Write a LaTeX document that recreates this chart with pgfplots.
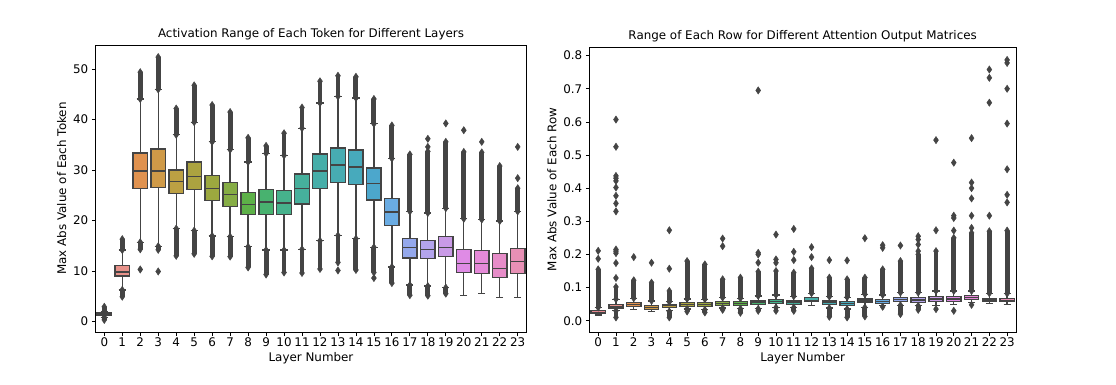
\documentclass[border=0pt]{standalone}
\usepackage{fontspec}
\setmainfont{DejaVu Sans}
\usepackage{pgfplots}
\usepackage{pgfplotstable}
\pgfplotsset{compat=1.18}
\usepgfplotslibrary{statistics}

\definecolor{lc}{HTML}{444444}
\definecolor{c0}{HTML}{E6878F}
\definecolor{c1}{HTML}{E8928A}
\definecolor{c2}{HTML}{E0924F}
\definecolor{c3}{HTML}{CF9A48}
\definecolor{c4}{HTML}{BCA043}
\definecolor{c5}{HTML}{ABA340}
\definecolor{c6}{HTML}{9CA83F}
\definecolor{c7}{HTML}{86AD45}
\definecolor{c8}{HTML}{5DB148}
\definecolor{c9}{HTML}{48B26F}
\definecolor{c10}{HTML}{46B28C}
\definecolor{c11}{HTML}{46B09C}
\definecolor{c12}{HTML}{46AEA9}
\definecolor{c13}{HTML}{47ACB2}
\definecolor{c14}{HTML}{47AABC}
\definecolor{c15}{HTML}{4CA7CC}
\definecolor{c16}{HTML}{6AACE3}
\definecolor{c17}{HTML}{94A8EC}
\definecolor{c18}{HTML}{B3A4EC}
\definecolor{c19}{HTML}{C99AE6}
\definecolor{c20}{HTML}{DF8BE5}
\definecolor{c21}{HTML}{E58AD8}
\definecolor{c22}{HTML}{E68CC8}
\definecolor{c23}{HTML}{E890B5}

% Left panel: box statistics per layer
\pgfplotstableread{
lw lq med uq uw
0.8 1.15 1.4 1.65 2.0
6.25 9.0 9.8 11.07 14.15
15.7 26.3 29.8 33.4 44.1
14.9 26.5 29.8 34.2 46.0
18.4 25.3 27.7 30.0 37.0
18.0 26.1 28.7 31.6 39.5
16.95 24.0 26.3 28.9 35.6
16.8 22.85 25.1 27.5 34.05
14.8 21.15 23.2 25.5 31.6
14.15 21.15 23.7 26.1 33.3
14.15 21.15 23.5 25.9 32.9
14.3 23.3 26.3 29.25 38.3
16.0 26.3 29.8 33.2 43.3
17.05 27.5 31.0 34.4 44.6
16.4 27.1 30.6 34.0 44.3
14.7 24.1 27.3 30.4 39.2
10.8 19.0 21.7 24.3 32.3
7.2 12.6 14.6 16.4 21.8
7.0 12.45 14.2 16.0 21.5
6.7 12.85 14.6 16.8 22.45
5.2 9.7 11.5 14.2 20.35
5.5 9.5 11.5 14.0 20.2
4.8 8.7 10.5 13.4 19.9
4.8 9.5 11.9 14.4 21.8
}\tblA

% Left panel: dense outlier ranges (min, max of each run)
\pgfplotstableread{
x y
0 2.0
0 2.9
nan nan
0 0.3
0 0.8
nan nan
1 14.15
1 16.3
nan nan
1 4.9
1 6.25
nan nan
2 44.1
2 49.4
nan nan
2 14.3
2 15.7
nan nan
3 46.0
3 52.4
nan nan
3 14.2
3 14.9
nan nan
4 37.0
4 42.2
nan nan
4 13.0
4 18.4
nan nan
5 39.5
5 46.8
nan nan
5 13.4
5 18.0
nan nan
6 35.6
6 42.9
nan nan
6 12.9
6 16.95
nan nan
7 34.05
7 41.5
nan nan
7 12.85
7 16.8
nan nan
8 31.6
8 36.4
nan nan
8 10.7
8 14.8
nan nan
9 33.3
9 34.8
nan nan
9 9.3
9 14.15
nan nan
10 32.9
10 37.3
nan nan
10 9.7
10 14.15
nan nan
11 38.3
11 42.4
nan nan
11 9.6
11 14.3
nan nan
12 43.3
12 47.6
nan nan
12 10.4
12 16.0
nan nan
13 44.6
13 48.7
nan nan
13 11.7
13 17.05
nan nan
14 44.3
14 48.5
nan nan
14 10.2
14 16.4
nan nan
15 39.2
15 44.1
nan nan
15 9.7
15 14.7
nan nan
16 32.3
16 38.85
nan nan
16 7.6
16 10.8
nan nan
17 21.8
17 33.1
nan nan
17 5.2
17 7.2
nan nan
18 21.5
18 33.7
nan nan
18 5.1
18 7.0
nan nan
19 22.45
19 35.6
nan nan
19 5.5
19 6.7
nan nan
20 20.35
20 33.6
nan nan
21 20.2
21 33.5
nan nan
22 19.9
22 30.8
nan nan
23 21.8
23 26.4
}\strA

% Left panel: isolated outliers
\pgfplotstableread{
x y
2 10.3
3 9.9
13 10.1
15 8.6
18 34.6
18 36.2
19 39.25
20 37.9
21 35.6
23 28.4
23 34.6
}\outA

% Right panel: box statistics per layer
\pgfplotstableread{
lw lq med uq uw
0.017 0.022 0.025 0.031 0.040
0.030 0.036 0.041 0.048 0.065
0.034 0.044 0.049 0.055 0.068
0.027 0.034 0.040 0.046 0.060
0.030 0.040 0.045 0.050 0.057
0.035 0.044 0.049 0.055 0.066
0.033 0.044 0.048 0.055 0.065
0.038 0.047 0.051 0.058 0.070
0.036 0.046 0.051 0.057 0.068
0.036 0.048 0.054 0.060 0.075
0.040 0.052 0.057 0.064 0.078
0.040 0.048 0.054 0.060 0.074
0.045 0.057 0.062 0.070 0.083
0.038 0.049 0.054 0.060 0.073
0.035 0.047 0.052 0.058 0.071
0.040 0.054 0.060 0.066 0.080
0.045 0.053 0.058 0.064 0.078
0.047 0.058 0.064 0.071 0.085
0.045 0.056 0.063 0.071 0.085
0.047 0.059 0.066 0.073 0.090
0.048 0.059 0.066 0.073 0.090
0.055 0.065 0.070 0.076 0.090
0.051 0.058 0.063 0.068 0.083
0.050 0.057 0.062 0.067 0.082
}\tblB

% Right panel: dense outlier ranges
\pgfplotstableread{
x y
0 0.040
0 0.155
nan nan
1 0.065
1 0.102
nan nan
1 0.010
1 0.030
nan nan
2 0.068
2 0.122
nan nan
3 0.060
3 0.115
nan nan
4 0.057
4 0.090
nan nan
4 0.010
4 0.028
nan nan
5 0.066
5 0.180
nan nan
5 0.028
5 0.035
nan nan
6 0.065
6 0.170
nan nan
6 0.025
6 0.033
nan nan
7 0.070
7 0.125
nan nan
7 0.033
7 0.038
nan nan
8 0.068
8 0.130
nan nan
8 0.024
8 0.036
nan nan
9 0.075
9 0.148
nan nan
9 0.030
9 0.036
nan nan
10 0.078
10 0.150
nan nan
10 0.030
10 0.040
nan nan
11 0.074
11 0.145
nan nan
11 0.030
11 0.040
nan nan
12 0.083
12 0.158
nan nan
13 0.073
13 0.130
nan nan
13 0.012
13 0.038
nan nan
14 0.071
14 0.125
nan nan
14 0.010
14 0.035
nan nan
15 0.080
15 0.130
nan nan
15 0.013
15 0.040
nan nan
16 0.078
16 0.155
nan nan
17 0.085
17 0.180
nan nan
17 0.020
17 0.047
nan nan
18 0.085
18 0.200
nan nan
18 0.033
18 0.045
nan nan
19 0.090
19 0.210
nan nan
20 0.090
20 0.250
nan nan
21 0.090
21 0.265
nan nan
22 0.083
22 0.270
nan nan
23 0.082
23 0.272
}\strB

% Right panel: isolated outliers
\pgfplotstableread{
x y
0 0.187
0 0.211
1 0.129
1 0.174
1 0.204
1 0.210
1 0.215
1 0.330
1 0.354
1 0.377
1 0.402
1 0.422
1 0.430
1 0.437
1 0.525
1 0.607
2 0.192
3 0.175
4 0.157
4 0.273
7 0.225
7 0.248
9 0.175
9 0.200
9 0.205
9 0.695
10 0.175
10 0.185
10 0.260
11 0.183
11 0.208
11 0.277
12 0.192
12 0.222
13 0.183
14 0.182
15 0.249
16 0.220
16 0.228
16 0.042
17 0.227
18 0.210
18 0.230
18 0.245
18 0.255
19 0.035
19 0.273
19 0.545
20 0.030
20 0.272
20 0.310
20 0.317
20 0.477
21 0.048
21 0.280
21 0.317
21 0.369
21 0.400
21 0.417
21 0.551
22 0.317
22 0.658
22 0.733
22 0.758
23 0.357
23 0.380
23 0.457
23 0.595
23 0.700
23 0.778
23 0.787
}\outB

\pgfplotsset{
  panel/.style={
    scale only axis,
    boxplot/draw direction=y,
    xmin=-0.5, xmax=23.5,
    xtick={0,...,23},
    tick align=outside,
    tick pos=left,
    major tick length=3.5pt,
    tick style={black, line width=0.8pt},
    axis line style={black, line width=0.8pt},
    /pgf/number format/assume math mode=true,
    xlabel={Layer Number},
    title style={yshift=-5pt},
    xticklabel style={inner sep=2pt},
  },
  streak/.style={lc, line width=4.9pt, unbounded coords=jump,
    mark=diamond*, mark size=3.6pt,
    mark options={solid, fill=lc, draw=lc, line width=0.5pt, xscale=0.9}},
  iso/.style={only marks, mark=diamond*, mark size=3.6pt,
    mark options={solid, fill=lc, draw=lc, line width=0.5pt, xscale=0.9}},
}

% draw one prepared box from row #1 of table #2
\newcommand{\boxrow}[2]{%
  \pgfplotstablegetelem{#1}{lw}\of#2\let\vlw\pgfplotsretval
  \pgfplotstablegetelem{#1}{lq}\of#2\let\vlq\pgfplotsretval
  \pgfplotstablegetelem{#1}{med}\of#2\let\vmed\pgfplotsretval
  \pgfplotstablegetelem{#1}{uq}\of#2\let\vuq\pgfplotsretval
  \pgfplotstablegetelem{#1}{uw}\of#2\let\vuw\pgfplotsretval
  \edef\tmpbox{\noexpand\addplot[draw=lc, line width=1.3pt, fill=c#1,
    boxplot prepared={draw position=#1, box extend=0.8, whisker extend=0.4,
      lower whisker=\vlw, lower quartile=\vlq, median=\vmed,
      upper quartile=\vuq, upper whisker=\vuw}] coordinates {};}%
  \tmpbox
}

\begin{document}
\begin{tikzpicture}[font=\fontsize{11.9}{14.3}\selectfont]
\path[use as bounding box] (0pt,0pt) rectangle (1116pt,384pt);

\begin{axis}[panel,
  at={(95.3pt,52pt)}, anchor=south west,
  width=431.4pt, height=287pt,
  ymin=-2.1, ymax=54.8,
  ytick={0,10,20,30,40,50},
  ylabel={Max Abs Value of Each Token},
  title={Activation Range of Each Token for Different Layers},
]
\pgfplotsinvokeforeach{0,...,23}{\boxrow{#1}{\tblA}}
\addplot[streak] table[x=x, y=y] {\strA};
\addplot[iso] table[x=x, y=y] {\outA};
\end{axis}

\begin{axis}[panel,
  at={(589.3pt,52pt)}, anchor=south west,
  width=426.7pt, height=285pt,
  ymin=-0.034, ymax=0.826,
  ytick={0,0.1,...,0.8},
  yticklabel style={/pgf/number format/.cd, fixed, fixed zerofill, precision=1},
  ylabel={Max Abs Value of Each Row},
  title={Range of Each Row for Different Attention Output Matrices},
]
\pgfplotsinvokeforeach{0,...,23}{\boxrow{#1}{\tblB}}
\addplot[streak] table[x=x, y=y] {\strB};
\addplot[iso] table[x=x, y=y] {\outB};
\end{axis}
\end{tikzpicture}
\end{document}
